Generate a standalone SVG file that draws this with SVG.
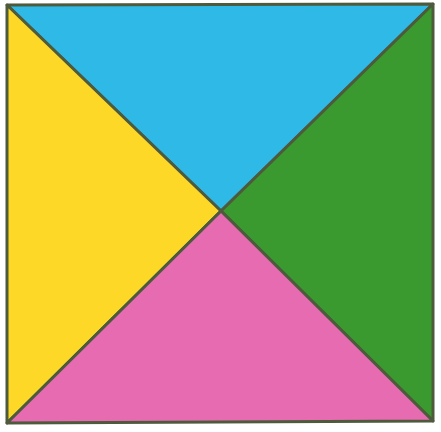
<svg xmlns="http://www.w3.org/2000/svg" width="441" height="432" viewBox="0 0 441 432">
<style>
.t{stroke:#4d5a3c;stroke-width:3;stroke-linejoin:round}
</style>
<rect width="441" height="432" fill="#ffffff"/>
<g id="top"><polygon class="t" points="7,5 433,4 221,211" fill="#2fb9e6"/></g>
<g id="left"><polygon class="t" points="7,5 221,211 7,423" fill="#fed826"/></g>
<g id="right"><polygon class="t" points="433,4 433,421 221,211" fill="#3a9a30"/></g>
<g id="bottom"><polygon class="t" points="7,423 221,211 433,421" fill="#e66bb0"/></g>
<g id="connectors"></g>
</svg>
